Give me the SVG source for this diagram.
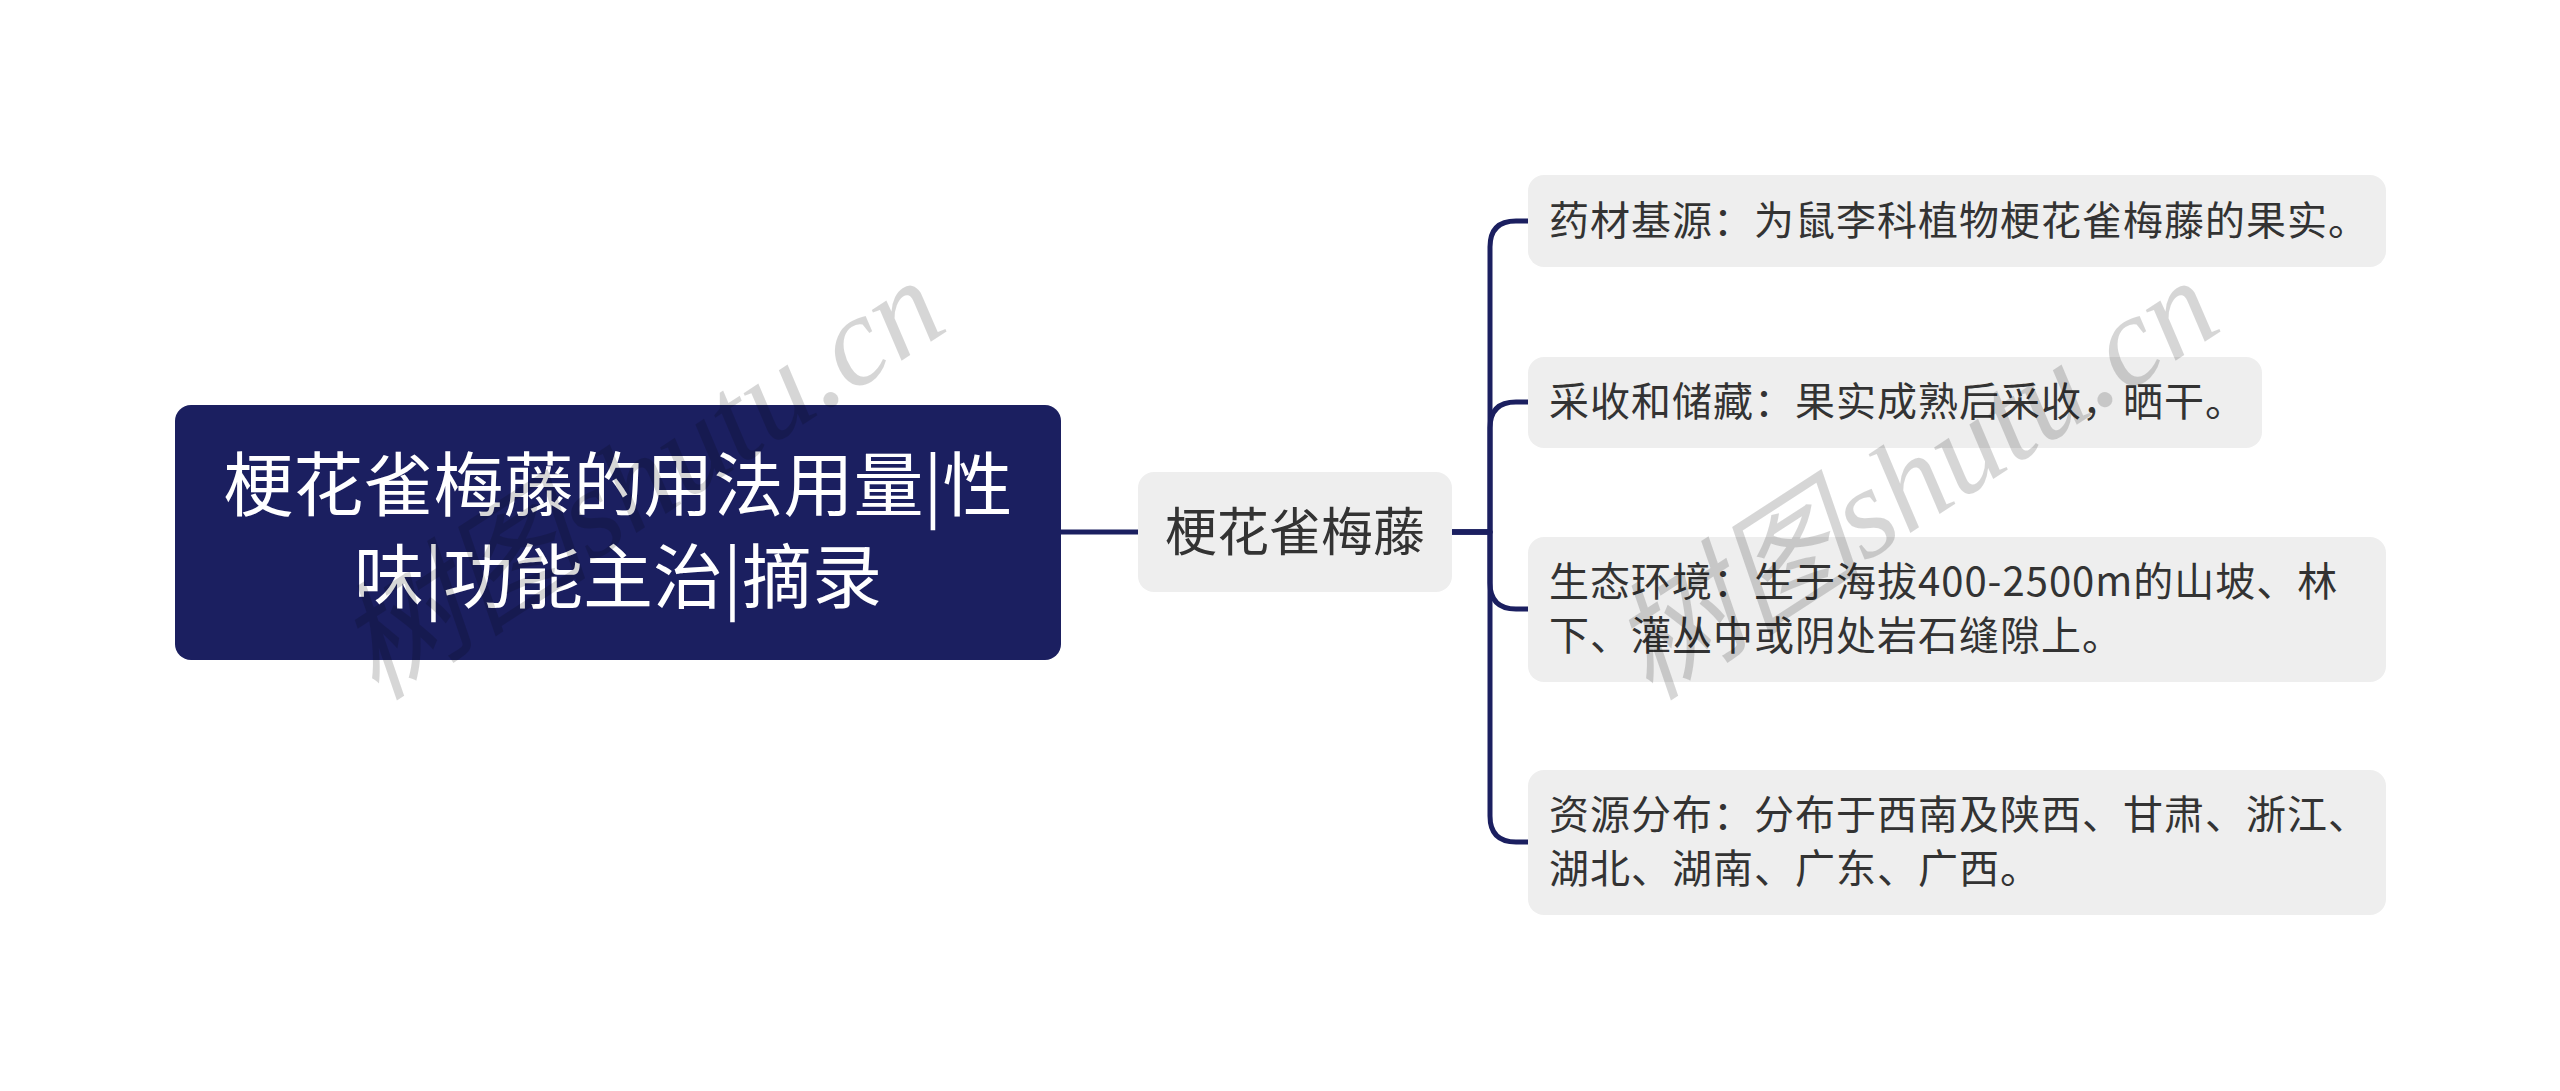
<svg xmlns="http://www.w3.org/2000/svg" width="2560" height="1091" viewBox="0 0 2560 1091">
<style>
.bg{fill:#ffffff}
.root rect{fill:#1b1f60}
.root text{fill:#ffffff;font-family:"Noto Sans CJK SC","Noto Sans",sans-serif;font-size:70px;text-anchor:middle}
.sub rect{fill:#eeeeee}
.sub text{fill:#333333;font-family:"Noto Sans CJK SC","Noto Sans",sans-serif;font-size:52px;text-anchor:middle}
.leaf rect{fill:#eeeeee}
.leaf text{fill:#333333;font-family:"Noto Sans CJK SC","Noto Sans",sans-serif;font-size:40px;letter-spacing:1px}
.conn path{fill:none;stroke:#1b1f60;stroke-width:5;stroke-linecap:round;stroke-linejoin:round}
.wm{fill:#000000;fill-opacity:0.16;font-family:"Liberation Serif","Noto Sans CJK SC",serif;font-style:italic;font-size:128px}
</style>
<rect class="bg" x="0" y="0" width="2560" height="1091"/>
<g id="connectors" class="conn">
<path d="M1061,532 H1138"/>
<path d="M1452,532 H1490 V247 Q1490,221 1516,221 H1528"/>
<path d="M1452,532 H1490 V428 Q1490,402 1516,402 H1528"/>
<path d="M1452,532 H1490 V583 Q1490,609 1516,609 H1528"/>
<path d="M1452,532 H1490 V816 Q1490,842 1516,842 H1528"/>
</g>
<g id="root" class="root">
<rect x="175" y="405" width="886" height="255" rx="16"/>
<text x="618" y="511">梗花雀梅藤的用法用量|性</text>
<text x="618" y="603">味|功能主治|摘录</text>
</g>
<g id="center" class="sub">
<rect x="1138" y="472" width="314" height="120" rx="16"/>
<text x="1295" y="551">梗花雀梅藤</text>
</g>
<g id="n1" class="leaf">
<rect x="1528" y="175" width="858" height="92" rx="16"/>
<text x="1549" y="235">药材基源：为鼠李科植物梗花雀梅藤的果实。</text>
</g>
<g id="n2" class="leaf">
<rect x="1528" y="357" width="734" height="91" rx="16"/>
<text x="1549" y="416">采收和储藏：果实成熟后采收，晒干。</text>
</g>
<g id="n3" class="leaf">
<rect x="1528" y="537" width="858" height="145" rx="16"/>
<text x="1549" y="596">生态环境：生于海拔400-2500m的山坡、林</text>
<text x="1549" y="650">下、灌丛中或阴处岩石缝隙上。</text>
</g>
<g id="n4" class="leaf">
<rect x="1528" y="770" width="858" height="145" rx="16"/>
<text x="1549" y="829">资源分布：分布于西南及陕西、甘肃、浙江、</text>
<text x="1549" y="883">湖北、湖南、广东、广西。</text>
</g>
<g id="watermarks">
<text class="wm" transform="translate(376,702) rotate(-33)">树图shutu.cn</text>
<text class="wm" transform="translate(1650,702) rotate(-33)">树图shutu.cn</text>
</g>
</svg>
